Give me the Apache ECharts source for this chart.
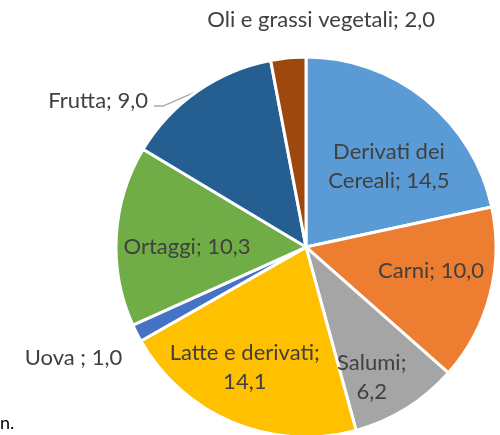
<!DOCTYPE html>
<html>
<head>
<meta charset="utf-8">
<script src="https://cdn.jsdelivr.net/npm/echarts@6/dist/echarts.min.js"></script>
<style>
  html, body { margin: 0; padding: 0; background: #fff; }
  #chart { width: 500px; height: 435px; }
</style>
</head>
<body>
<div id="chart"></div>
<script>
const categories = ['Derivati dei Cereali', 'Carni', 'Salumi', 'Latte e derivati', 'Uova ', 'Ortaggi', 'Frutta', 'Oli e grassi vegetali']
const values = [14.5, 10.0, 6.2, 14.1, 1.0, 10.3, 9.0, 2.0]
const colors = ['#5B9BD5', '#ED7D31', '#A5A5A5', '#FFC000', '#4472C4', '#70AD47', '#255E91', '#9E480E']

// where each label sits: [angle from 12 o'clock (deg, clockwise), distance in radii]
const labelSpots = [[45.7, 0.61], [100.9, 0.67], [153.3, 0.77], [207, 0.71], [244.5, 1.356], [270, 0.626], [305.1, 1.337], [3.8, 1.2]]
const outsideLabels = [4, 6, 7]
const leaderLine = 6

const FONT = 'Lato'
const TEXT_COLOR = '#404040'
const CENTER = [0.612, 0.568]
const RADIUS = 190

function fmt(v) {
  return v.toFixed(1).replace('.', ',')
}

function labelText(p) {
  let t = p.name + '; ' + fmt(p.value)
  if (p.dataIndex === 0) t = t.replace('dei ', 'dei\n')
  if (p.dataIndex === 2 || p.dataIndex === 3) t = t.replace('; ', ';\n')
  return t
}

const total = values.reduce((a, b) => a + b, 0)
const midAngles = []
let acc = 0
values.forEach(v => {
  midAngles.push((acc + v / 2) / total * 360)
  acc += v
})

const myChart = echarts.init(document.getElementById('chart'), null, { renderer: 'canvas' })

function polar(angle, dist) {
  const cx = myChart.getWidth() * CENTER[0]
  const cy = myChart.getHeight() * CENTER[1]
  const a = angle * Math.PI / 180
  return [cx + Math.sin(a) * dist * RADIUS, cy - Math.cos(a) * dist * RADIUS]
}

const data = categories.map((name, i) => {
  const item = { name: name, value: values[i], itemStyle: { color: colors[i] } }
  if (outsideLabels.includes(i)) {
    item.label = { position: 'outside' }
    item.labelLine = { show: i === leaderLine, length: 10, length2: 10 }
  }
  return item
})

myChart.setOption({
  animation: false,
  series: [
    {
      type: 'pie',
      center: [CENTER[0] * 100 + '%', CENTER[1] * 100 + '%'],
      radius: RADIUS,
      startAngle: 90,
      clockwise: true,
      avoidLabelOverlap: false,
      itemStyle: { borderColor: '#fff', borderWidth: 3 },
      emphasis: { disabled: true },
      label: {
        show: true,
        position: 'inside',
        formatter: labelText,
        fontFamily: FONT,
        fontSize: 22,
        color: TEXT_COLOR,
        lineHeight: 29,
        align: 'center'
      },
      labelLine: { show: false, lineStyle: { color: '#A6A6A6', width: 1.3 } },
      labelLayout: function (params) {
        const i = params.dataIndex
        const pt = polar(labelSpots[i][0], labelSpots[i][1])
        const out = { x: pt[0], y: pt[1], align: 'center', verticalAlign: 'middle' }
        if (i === leaderLine) {
          const edge = polar(midAngles[i], 1)
          const endX = pt[0] + params.labelRect.width / 2 + 6
          const endY = pt[1] + 5
          out.labelLinePoints = [edge, [endX + 9, endY], [endX, endY]]
        }
        return out
      },
      data: data
    }
  ],
  graphic: [
    {
      type: 'text',
      left: 0,
      top: 414,
      style: { text: 'n.', font: '18px ' + FONT, fill: '#000' }
    }
  ]
})
</script>
</body>
</html>
